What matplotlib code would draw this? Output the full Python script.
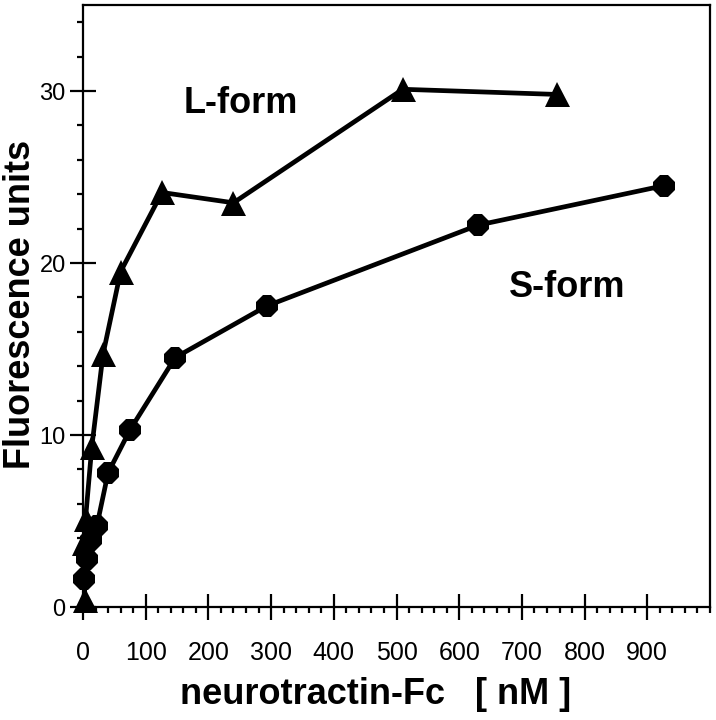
import numpy as np
import matplotlib
matplotlib.use("Agg")
import matplotlib.pyplot as plt
from matplotlib.ticker import MultipleLocator

# neurotractin-Fc concentration [nM] vs fluorescence units
l_conc = [3, 1, 4, 14, 32, 60, 126, 240, 510, 756]
l_fluor = [0.4, 3.7, 5.1, 9.3, 14.7, 19.5, 24.1, 23.5, 30.1, 29.8]

s_conc = [2, 6, 12, 22, 40, 75, 147, 293, 630, 927]
s_fluor = [1.6, 2.8, 3.9, 4.7, 7.8, 10.3, 14.5, 17.5, 22.2, 24.5]

xticks = [0, 100, 200, 300, 400, 500, 600, 700, 800, 900]
yticks = [0, 10, 20, 30]

plt.rcParams['font.family'] = ['Liberation Sans', 'DejaVu Sans']

fig = plt.figure(figsize=(7.16, 7.2), dpi=100)
ax = fig.add_axes([83/716, 113/720, 627/716, 602/720])

ax.plot(l_conc, l_fluor, color='black', lw=3.4, marker='^', ms=18,
        markeredgewidth=0, clip_on=False, zorder=3)
ax.plot(s_conc, s_fluor, color='black', lw=3.4, marker='8', ms=16.5,
        markeredgewidth=0, clip_on=False, zorder=3)

ax.set_xlim(0, 1000)
ax.set_ylim(0, 35)
ax.set_xticks(xticks)
ax.set_yticks(yticks)
ax.xaxis.set_minor_locator(MultipleLocator(20))
ax.yaxis.set_minor_locator(MultipleLocator(2))

ax.tick_params(which='major', direction='inout', length=19, width=1.6,
               labelsize=18)
ax.tick_params(axis='y', which='major', labelsize=17, pad=3)
ax.tick_params(axis='x', which='major', pad=15)
ax.tick_params(which='minor', direction='out', length=4.5, width=1.6)

for sp in ax.spines.values():
    sp.set_linewidth(1.6)

ax.set_xlabel('neurotractin-Fc   [ nM ]', fontsize=26, fontweight='bold')
ax.set_ylabel('Fluorescence units', fontsize=26, fontweight='bold')
ax.xaxis.set_label_coords(0.467, -0.116)
ax.yaxis.set_label_coords(-0.072, 0.503)

ax.text(160, 28.7, 'L-form', fontsize=26, fontweight='bold')
ax.text(680, 18.0, 'S-form', fontsize=26, fontweight='bold')

fig.savefig('out.png', dpi=100)
